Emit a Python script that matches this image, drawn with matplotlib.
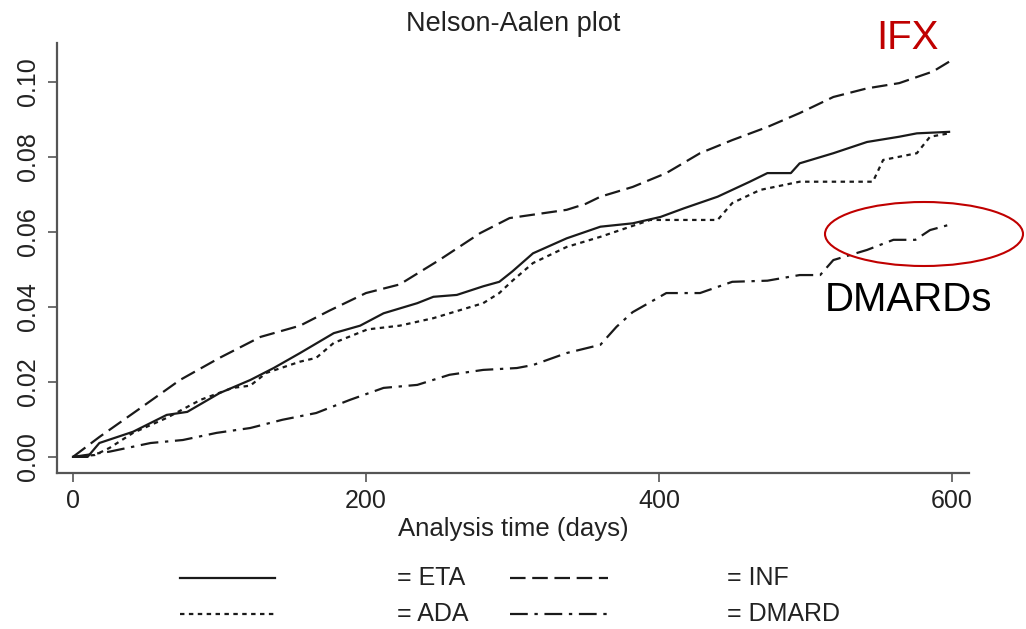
import matplotlib.pyplot as plt
import matplotlib.patches as patches
from matplotlib.lines import Line2D

plt.rcParams['font.family'] = ['Liberation Sans', 'DejaVu Sans']

# values (days, cumulative hazard)
inf_days = [0, 18, 46, 73, 100, 128, 155, 175, 200, 223, 250, 278, 298, 337, 350, 360, 382, 405,
            428, 450, 474, 496, 519, 542, 564, 587, 598]
inf_haz = [0, 0.0053, 0.013, 0.0205, 0.0264, 0.032, 0.035, 0.039, 0.0437, 0.046, 0.0525, 0.0597,
           0.0637, 0.0659, 0.0675, 0.0694, 0.072, 0.0757, 0.081, 0.0845, 0.088, 0.0917, 0.096,
           0.0983, 0.0997, 0.1028, 0.1054]

eta_days = [0, 10, 18, 41, 64, 78, 100, 121, 137, 155, 178, 196, 212, 235, 246, 262, 280, 291,
            300, 314, 337, 360, 382, 401, 417, 440, 462, 474, 490, 496, 519, 542, 564, 576, 598]
eta_haz = [0, 0, 0.0037, 0.0067, 0.0112, 0.012, 0.017, 0.0205, 0.0237, 0.0277, 0.033, 0.035,
           0.0383, 0.041, 0.0427, 0.0432, 0.0455, 0.0467, 0.0495, 0.0543, 0.0583, 0.0614, 0.0623,
           0.064, 0.0663, 0.0694, 0.0734, 0.0757, 0.0757, 0.0783, 0.081, 0.084, 0.0854, 0.0863,
           0.0867]

ada_days = [0, 15, 25, 41, 64, 87, 109, 121, 132, 155, 166, 178, 201, 223, 246, 280, 291, 300,
            314, 337, 360, 394, 440, 450, 469, 496, 546, 553, 576, 585, 598]
ada_haz = [0, 0.0005, 0.0024, 0.0064, 0.0104, 0.0152, 0.0184, 0.019, 0.0224, 0.0254, 0.0264,
           0.0304, 0.034, 0.035, 0.037, 0.041, 0.0437, 0.047, 0.0517, 0.056, 0.0587, 0.0632,
           0.0632, 0.0677, 0.0712, 0.0734, 0.0734, 0.0792, 0.081, 0.0854, 0.0863]

dmard_days = [0, 25, 53, 75, 98, 121, 143, 166, 189, 212, 235, 257, 280, 303, 314, 337, 360,
              371, 382, 405, 428, 450, 474, 496, 510, 519, 542, 560, 575, 585, 598]
dmard_haz = [0, 0.0014, 0.0037, 0.0045, 0.0064, 0.0077, 0.0099, 0.0117, 0.0152, 0.0184, 0.0192,
             0.0219, 0.0232, 0.0237, 0.0245, 0.0277, 0.0299, 0.0347, 0.0386, 0.0437, 0.0437,
             0.0467, 0.047, 0.0485, 0.0485, 0.0525, 0.0552, 0.0579, 0.0579, 0.0605, 0.0619]

x_ticks = [0, 200, 400, 600]
y_ticks = [0.00, 0.02, 0.04, 0.06, 0.08, 0.10]
legend_names = ["= ETA", "= INF", "= ADA", "= DMARD"]

line_col = "#1a1a1a"
styles = {
    "eta": dict(linestyle="-"),
    "inf": dict(linestyle=(0, (7, 3))),
    "ada": dict(linestyle=(0, (2, 2))),
    "dmard": dict(linestyle=(0, (8, 3, 1.5, 3))),
}

fig = plt.figure(figsize=(10.26, 6.29), dpi=100)
ax = fig.add_axes([57 / 1026, 1 - 473 / 629, 912 / 1026, 430 / 629])

ax.plot(inf_days, inf_haz, color=line_col, lw=1.6, **styles["inf"])
ax.plot(eta_days, eta_haz, color=line_col, lw=1.6, **styles["eta"])
ax.plot(ada_days, ada_haz, color=line_col, lw=1.6, **styles["ada"])
ax.plot(dmard_days, dmard_haz, color=line_col, lw=1.6, **styles["dmard"])

ax.set_xlim(-10.9, 611.6)
ax.set_ylim(-0.0043, 0.1104)
ax.set_xticks(x_ticks)
ax.set_yticks(y_ticks)
ax.set_yticklabels([f"{v:.2f}" for v in y_ticks], rotation=90, va="center")
for s in ["top", "right"]:
    ax.spines[s].set_visible(False)
for s in ["left", "bottom"]:
    ax.spines[s].set_color("#555555")
    ax.spines[s].set_linewidth(1.6)
ax.tick_params(axis="both", length=6.5, width=1.2, color="#555555", labelsize=18, labelcolor="#222222")
ax.tick_params(axis="y", pad=6)
ax.tick_params(axis="x", pad=5)

fig.text(513 / 1026, 1 - 24 / 629, "Nelson-Aalen plot", ha="center", va="center", fontsize=19.5,
         color="#222222")
fig.text(513 / 1026, 1 - 529 / 629, "Analysis time (days)", ha="center", va="center", fontsize=18.5,
         color="#222222")

# annotations
fig.text(907 / 1026, 1 - 38 / 629, "IFX", ha="center", va="center", fontsize=29, color="#c00000")
fig.text(909 / 1026, 1 - 300 / 629, "DMARDs", ha="center", va="center", fontsize=29, color="black")
fig.add_artist(patches.Ellipse((924 / 1026, 1 - 234 / 629), 198 / 1026, 64 / 629,
                               transform=fig.transFigure, fill=False, edgecolor="#c00000", lw=1.5))

# legend drawn by hand under the axes
rows = [578, 614]
keys = [("eta", "inf"), ("ada", "dmard")]
for r, (k1, k2) in enumerate(keys):
    yy = 1 - rows[r] / 629
    for c, key in enumerate((k1, k2)):
        x0, x1, tx = (180, 275, 397) if c == 0 else (510, 608, 727)
        fig.add_artist(Line2D([x0 / 1026, x1 / 1026], [yy, yy], transform=fig.transFigure,
                              color=line_col, lw=1.6, **styles[key]))
        fig.text(tx / 1026, yy, legend_names[r * 2 + c], ha="left", va="center", fontsize=18,
                 color="#222222")

fig.savefig("out.png", dpi=100)
